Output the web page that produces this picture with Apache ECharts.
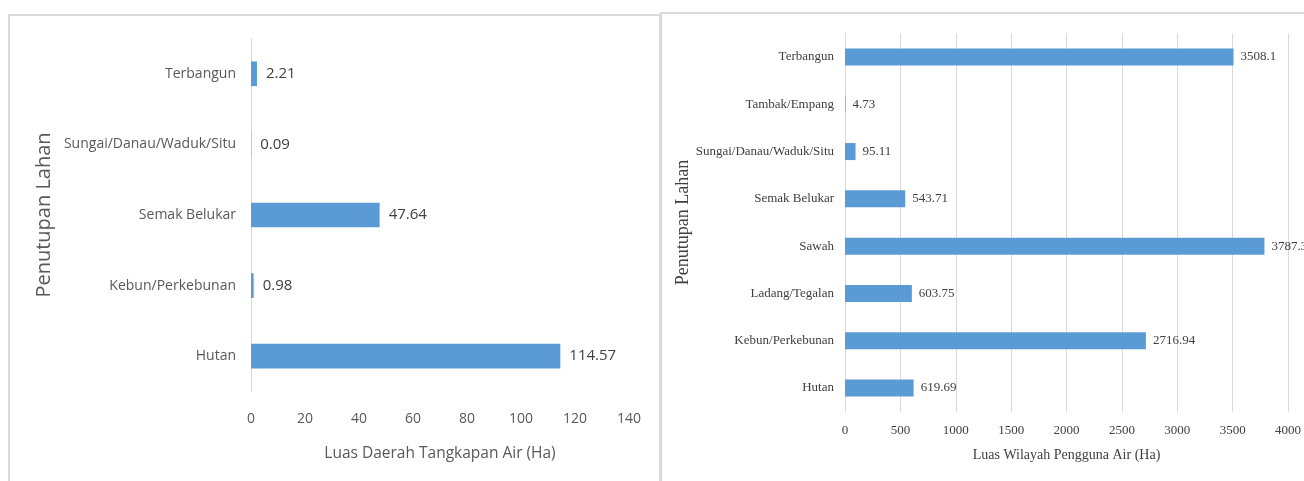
<!DOCTYPE html>
<html>
<head>
<meta charset="utf-8">
<script src="https://cdn.jsdelivr.net/npm/echarts@6/dist/echarts.min.js"></script>
<style>
html,body{margin:0;padding:0;background:#fff;}
#c{width:1304px;height:481px;}
</style>
</head>
<body>
<div id="c"></div>
<script>
// Left chart: Luas Daerah Tangkapan Air (Ha)
const leftCategories = ['Hutan', 'Kebun/Perkebunan', 'Semak Belukar', 'Sungai/Danau/Waduk/Situ', 'Terbangun'];
const leftValues = [114.57, 0.98, 47.64, 0.09, 2.21];
const leftTicks = { min: 0, max: 140, interval: 20 };

// Right chart: Luas Wilayah Pengguna Air (Ha)
const rightCategories = ['Hutan', 'Kebun/Perkebunan', 'Ladang/Tegalan', 'Sawah', 'Semak Belukar', 'Sungai/Danau/Waduk/Situ', 'Tambak/Empang', 'Terbangun'];
const rightValues = [619.69, 2716.94, 603.75, 3787.3, 543.71, 95.11, 4.73, 3508.1];
const rightTicks = { min: 0, max: 4000, interval: 500 };

const sans = '"Open Sans", "Noto Sans", sans-serif';
const serif = '"Liberation Serif", "DejaVu Serif", serif';
const barColor = '#5B9BD5';
const gridGray = '#d9d9d9';
const plain = v => String(v);

const chart = echarts.init(document.getElementById('c'), null, { renderer: 'canvas' });
chart.setOption({
  animation: false,
  backgroundColor: '#ffffff',
  graphic: [
    { type: 'rect', shape: { x: 9, y: 15, width: 651, height: 480 }, style: { fill: 'none', stroke: gridGray, lineWidth: 2 } },
    { type: 'rect', shape: { x: 661, y: 13, width: 660, height: 480 }, style: { fill: 'none', stroke: gridGray, lineWidth: 2 } }
  ],
  grid: [
    { left: 251, top: 38.5, width: 378, height: 353, containLabel: false },
    { left: 845, top: 33.3, width: 445, height: 378.4, containLabel: false }
  ],
  xAxis: [
    {
      gridIndex: 0, type: 'value', min: leftTicks.min, max: leftTicks.max, interval: leftTicks.interval,
      axisLine: { show: false }, axisTick: { show: false }, splitLine: { show: false },
      axisLabel: { color: '#595959', fontFamily: sans, fontSize: 14, margin: 21, formatter: plain },
      name: 'Luas Daerah Tangkapan Air (Ha)', nameLocation: 'middle', nameGap: 54,
      nameTextStyle: { color: '#595959', fontFamily: sans, fontSize: 15.5 }
    },
    {
      gridIndex: 1, type: 'value', min: rightTicks.min, max: rightTicks.max, interval: rightTicks.interval,
      axisLine: { show: false }, axisTick: { show: false },
      splitLine: { show: true, lineStyle: { color: gridGray, width: 1 } },
      axisLabel: { color: '#404040', fontFamily: serif, fontSize: 13, margin: 12, formatter: plain },
      name: 'Luas Wilayah Pengguna Air (Ha)', nameLocation: 'middle', nameGap: 37,
      nameTextStyle: { color: '#404040', fontFamily: serif, fontSize: 14 }
    }
  ],
  yAxis: [
    {
      gridIndex: 0, type: 'category', data: leftCategories,
      axisLine: { show: true, lineStyle: { color: gridGray, width: 1 } },
      axisTick: { show: false }, splitLine: { show: false },
      axisLabel: { color: '#595959', fontFamily: sans, fontSize: 14, margin: 15 },
      name: 'Penutupan Lahan', nameLocation: 'middle', nameRotate: 90, nameGap: 197,
      nameTextStyle: { color: '#595959', fontFamily: sans, fontSize: 20 }
    },
    {
      gridIndex: 1, type: 'category', data: rightCategories,
      axisLine: { show: true, lineStyle: { color: gridGray, width: 1 } },
      axisTick: { show: false }, splitLine: { show: false },
      axisLabel: { color: '#404040', fontFamily: serif, fontSize: 13, margin: 11 },
      name: 'Penutupan Lahan', nameLocation: 'middle', nameRotate: 90, nameGap: 146,
      nameTextStyle: { color: '#404040', fontFamily: serif, fontSize: 18 }
    }
  ],
  series: [
    {
      type: 'bar', xAxisIndex: 0, yAxisIndex: 0, data: leftValues,
      barWidth: '35%', itemStyle: { color: barColor },
      label: { show: true, position: 'right', distance: 9, color: '#404040', fontFamily: sans, fontSize: 15 }
    },
    {
      type: 'bar', xAxisIndex: 1, yAxisIndex: 1, data: rightValues,
      barWidth: '36%', itemStyle: { color: barColor },
      label: { show: true, position: 'right', distance: 7, color: '#404040', fontFamily: serif, fontSize: 13 }
    }
  ]
});
</script>
</body>
</html>
